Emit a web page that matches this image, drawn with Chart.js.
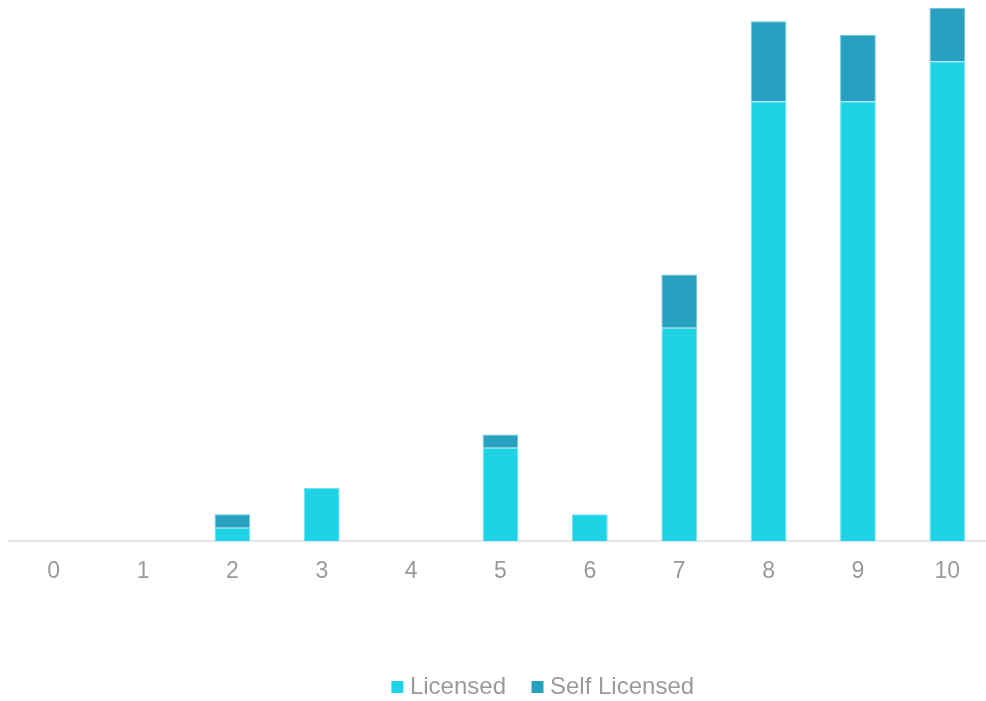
<!DOCTYPE html>
<html>
<head>
<meta charset="utf-8">
<script src="https://cdn.jsdelivr.net/npm/chart.js@4/dist/chart.umd.min.js"></script>
<style>
  html, body { margin: 0; padding: 0; background: #fff; }
  #wrap { position: relative; width: 986px; height: 701px; overflow: hidden; }
  #box { position: absolute; left: 0; top: 0; width: 1082px; height: 709px; }
</style>
</head>
<body>
<div id="wrap"><div id="box"><canvas id="chart"></canvas></div></div>
<script>
const categories = ["0", "1", "2", "3", "4", "5", "6", "7", "8", "9", "10"];
const licensed = [0, 0, 1, 4, 0, 7, 2, 16, 33, 33, 36];
const selfLicensed = [0, 0, 1, 0, 0, 1, 0, 4, 6, 5, 4];

const gray = "#9a9a9e";

new Chart(document.getElementById("chart"), {
    type: "bar",
    data: {
        labels: categories,
        datasets: [
            {
                label: "Licensed",
                data: licensed,
                backgroundColor: "#1ed3e6",
                borderColor: "#74e2ee",
                borderWidth: 1
            },
            {
                label: "Self Licensed",
                data: selfLicensed,
                backgroundColor: "#28a0bf",
                borderColor: "#6cc8de",
                borderWidth: 1
            }
        ]
    },
    options: {
        responsive: true,
        maintainAspectRatio: false,
        animation: false,
        layout: { padding: { left: 9, top: 8 } },
        datasets: {
            bar: { barPercentage: 0.4, categoryPercentage: 1 }
        },
        scales: {
            x: {
                stacked: true,
                grid: { display: false },
                border: { display: true, color: "#e6e6e6", width: 2 },
                ticks: {
                    color: gray,
                    padding: 9,
                    font: { family: "'Liberation Sans', Arial, sans-serif", size: 23 }
                },
                afterFit(scale) { scale.height = 103; }
            },
            y: {
                stacked: true,
                position: "right",
                min: 0,
                max: 40,
                grid: { display: false },
                border: { display: false },
                ticks: { display: false },
                // keeps the plot area ending at the same place while the legend centres further right
                afterFit(scale) { scale.width = 90; }
            }
        },
        plugins: {
            tooltip: { enabled: false },
            legend: {
                position: "bottom",
                labels: {
                    color: gray,
                    usePointStyle: true,
                    pointStyle: "rect",
                    boxWidth: 1,
                    boxHeight: 12,
                    padding: 31,
                    font: { family: "'Liberation Sans', Arial, sans-serif", size: 24 },
                    generateLabels(chart) {
                        const items = Chart.defaults.plugins.legend.labels.generateLabels(chart);
                        items.forEach(item => { item.lineWidth = 0; item.strokeStyle = item.fillStyle; });
                        return items;
                    }
                }
            }
        }
    }
});
</script>
</body>
</html>
